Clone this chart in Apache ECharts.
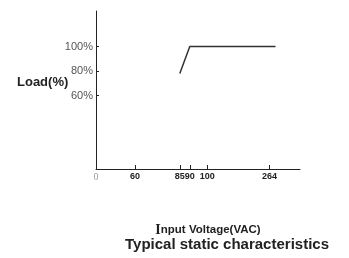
<!DOCTYPE html>
<html>
<head>
<meta charset="utf-8">
<script src="https://cdn.jsdelivr.net/npm/echarts@6/dist/echarts.min.js"></script>
<style>
  html, body { margin: 0; padding: 0; background: #fff; }
  #main { width: 349px; height: 258px; }
</style>
</head>
<body>
<div id="main"></div>
<script>
// data
var voltage = [85, 90, 271];
var load = [78, 100, 100];
var xTickValues = [60, 85, 90, 100, 264];
var xLabelValues = [0, 60, 85, 90, 100, 264];
var yTickValues = [60, 80, 100];

// the printed axis is not linear: piecewise scale between these voltages
var scaleVolts = [0, 60, 85, 90, 100, 264, 300];
var scaleUnits = [0, 39, 84, 94, 111.5, 174, 204.5];

function toAxis(v) {
  for (var i = 1; i < scaleVolts.length; i++) {
    if (v <= scaleVolts[i]) {
      var t = (v - scaleVolts[i - 1]) / (scaleVolts[i] - scaleVolts[i - 1]);
      return scaleUnits[i - 1] + t * (scaleUnits[i] - scaleUnits[i - 1]);
    }
  }
  return scaleUnits[scaleUnits.length - 1];
}
function fromAxis(u) {
  for (var i = 1; i < scaleUnits.length; i++) {
    if (u <= scaleUnits[i] + 1e-6) {
      var t = (u - scaleUnits[i - 1]) / (scaleUnits[i] - scaleUnits[i - 1]);
      return scaleVolts[i - 1] + t * (scaleVolts[i] - scaleVolts[i - 1]);
    }
  }
  return scaleVolts[scaleVolts.length - 1];
}

var lineData = voltage.map(function (v, i) { return [toAxis(v), load[i]]; });

var chart = echarts.init(document.getElementById('main'));
chart.setOption({
  animation: false,
  grid: { left: 96, top: 11, right: 49, bottom: 89 },
  xAxis: {
    type: 'value',
    min: 0,
    max: toAxis(300),
    splitLine: { show: false },
    axisLine: { lineStyle: { color: '#222', width: 1 } },
    axisTick: {
      inside: true, length: 4,
      customValues: xTickValues.map(toAxis),
      lineStyle: { color: '#222' }
    },
    axisLabel: {
      customValues: xLabelValues.map(toAxis),
      margin: 3,
      fontFamily: 'Liberation Sans',
      fontSize: 9,
      fontWeight: 'bold',
      color: '#222',
      formatter: function (u) {
        var v = Math.round(fromAxis(u));
        return v === 0 ? '{z|0}' : String(v);
      },
      rich: { z: { fontSize: 10, fontWeight: 'normal', color: '#999', fontFamily: 'Liberation Sans Narrow' } }
    }
  },
  yAxis: {
    type: 'value',
    min: 0,
    max: 129,
    splitLine: { show: false },
    axisLine: { show: true, lineStyle: { color: '#222', width: 1 } },
    axisTick: {
      show: true, inside: true, length: 3,
      customValues: yTickValues,
      lineStyle: { color: '#222' }
    },
    axisLabel: {
      customValues: yTickValues,
      margin: 3,
      fontFamily: 'Liberation Sans',
      fontSize: 11,
      color: '#555',
      formatter: '{value}%'
    }
  },
  series: [{
    type: 'line',
    data: lineData,
    showSymbol: false,
    lineStyle: { color: '#333', width: 1.5 }
  }],
  graphic: [
    {
      type: 'text', left: 17, top: 76,
      style: { text: 'Load(%)', font: 'bold 13px "Liberation Sans"', fill: '#222' }
    },
    {
      type: 'text', x: 208, y: 230,
      style: {
        text: '{i|I}nput Voltage(VAC)',
        rich: { i: { font: 'bold 14px "Liberation Serif"', fill: '#222' } },
        font: 'bold 11.5px "Liberation Sans"', fill: '#222',
        align: 'center', verticalAlign: 'middle'
      }
    },
    {
      type: 'text', x: 227, y: 245,
      style: {
        text: 'Typical static characteristics',
        font: 'bold 15px "Liberation Sans"', fill: '#222',
        align: 'center', verticalAlign: 'middle'
      }
    }
  ]
});
</script>
</body>
</html>
